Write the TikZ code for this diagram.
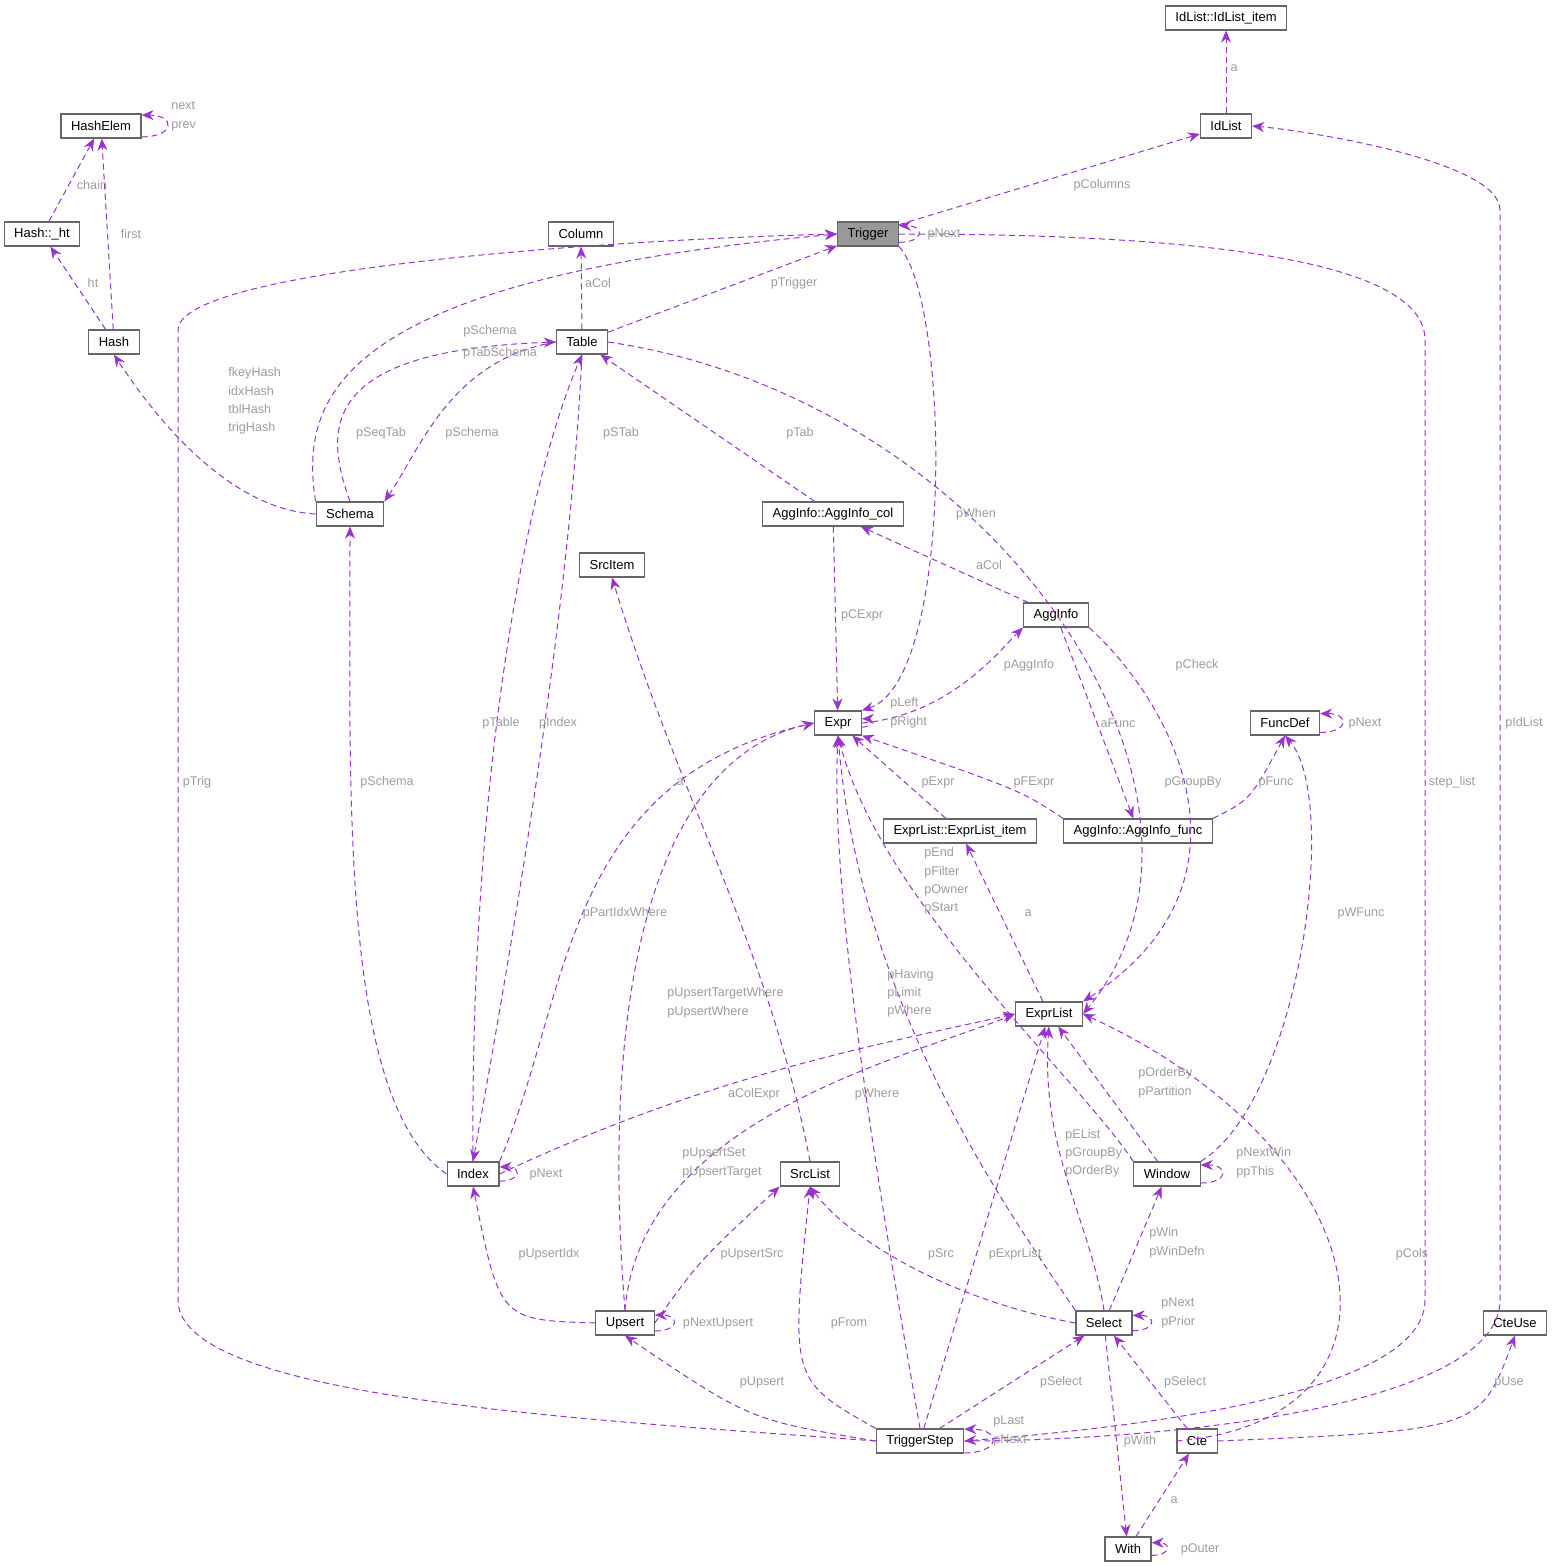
\documentclass[tikz,border=0pt]{standalone}
\usepackage{fontspec}
\setmainfont{Liberation Sans}
\usetikzlibrary{arrows.meta}
\definecolor{edgec}{HTML}{9A32CD}
\definecolor{labc}{HTML}{9C9C9C}
\definecolor{boxc}{HTML}{666666}
\tikzset{
  cls/.style={draw=boxc, fill=white, line width=0.6pt, minimum height=12pt, inner xsep=5pt, inner ysep=0pt, font=\fontsize{6.5}{7}\selectfont},
  rel/.style={draw=edgec, dashed, dash pattern=on 3pt off 2pt, line width=0.5pt, -{Stealth[length=6pt,width=5pt]}},
  lbl/.style={text=labc, font=\fontsize{6.3}{7.6}\selectfont, inner sep=0pt, align=left}
}
\begin{document}
\begin{tikzpicture}[x=0.5pt, y=-0.5pt]
\useasboundingbox (0,0) rectangle (1555,1568);
% classes
\node[cls] (ili) at (1226,18) {IdList::IdList\_item};
\node[cls] (idl) at (1226,126) {IdList};
\node[cls] (he) at (101,126) {HashElem};
\node[cls] (ht) at (42,234) {Hash::\_ht};
\node[cls] (col) at (581,234) {Column};
\node[cls, fill=black!40] (tr) at (868,234) {Trigger};
\node[cls] (hash) at (114,342) {Hash};
\node[cls] (tab) at (582,342) {Table};
\node[cls] (sch) at (350,514) {Schema};
\node[cls] (aic) at (833,514) {AggInfo::AggInfo\_col};
\node[cls] (si) at (612,565) {SrcItem};
\node[cls] (ai) at (1056,615) {AggInfo};
\node[cls] (ex) at (838,723) {Expr};
\node[cls] (fd) at (1285,723) {FuncDef};
\node[cls] (eli) at (960,831) {ExprList::ExprList\_item};
\node[cls] (aif) at (1138,831) {AggInfo::AggInfo\_func};
\node[cls] (el) at (1049,1014) {ExprList};
\node[cls] (idx) at (473,1174) {Index};
\node[cls] (sl) at (810,1174) {SrcList};
\node[cls] (win) at (1167,1174) {Window};
\node[cls] (ups) at (625,1323) {Upsert};
\node[cls] (sel) at (1104,1323) {Select};
\node[cls] (cu) at (1515,1323) {CteUse};
\node[cls] (ts) at (920,1441) {TriggerStep};
\node[cls] (cte) at (1197,1441) {Cte};
\node[cls] (wi) at (1128,1549) {With};
% relations
\draw[rel] (idl) -- (ili);
\draw[rel] (he.-15) to[out=0,in=0,looseness=4] (he.15);
\draw[rel] (ht) -- (he);
\draw[rel] (hash) -- (he);
\draw[rel] (hash) -- (ht);
\draw[rel] (tr) -- (idl);
\draw[rel] (tr.-15) to[out=0,in=0,looseness=4] (tr.15);
\draw[rel] (tab) -- (col);
\draw[rel] (tab) -- (tr);
\draw[rel] (sch.north west) .. controls (300,400) and (330,280) .. (tr.west);
\draw[rel] (tab.west) .. controls (450,360) and (420,450) .. (sch.north east);
\draw[rel] (sch.north) .. controls (320,420) and (330,350) .. (tab.west);
\draw[rel] (sch.west) .. controls (240,510) and (170,440) .. (hash.south);
\draw[rel] (tab.east) .. controls (1000,400) and (1260,800) .. (el.east);
\draw[rel] (tr.south east) .. controls (950,300) and (955,680) .. (ex.north east);
\draw[rel] (aic) -- (tab);
\draw[rel] (aic) -- (ex);
\draw[rel] (ai) -- (aic);
\draw[rel] (ex.east) .. controls (950,715) and (1000,650) .. (ai.south west);
\draw[rel] (ex.-10) to[out=0,in=0,looseness=3] (ex.10);
\draw[rel] (ai) -- (aif);
\draw[rel] (ai.south east) .. controls (1170,700) and (1270,880) .. (el.north east);
\draw[rel] (fd.-15) to[out=0,in=0,looseness=4] (fd.15);
\draw[rel] (aif.north east) .. controls (1250,800) .. (fd.south);
\draw[rel] (aif.north west) .. controls (1020,790) .. (ex.south east);
\draw[rel] (eli) -- (ex);
\draw[rel] (el) -- (eli);
\draw[rel] (win.north west) .. controls (1080,1080) and (880,900) .. (ex.south);
\draw[rel] (win.north east) .. controls (1300,1100) and (1340,800) .. (fd.south);
\draw[rel] (win) -- (el);
\draw[rel] (win.-15) to[out=0,in=0,looseness=4] (win.15);
\draw[rel] (idx.north east) .. controls (570,1000) and (560,780) .. (ex.west);
\draw[rel] (idx.east) .. controls (700,1080) and (850,1050) .. (el.west);
\draw[rel] (idx.-15) to[out=0,in=0,looseness=4] (idx.15);
\draw[rel] (idx.north) .. controls (470,800) and (520,500) .. (tab.south);
\draw[rel] (tab.south) .. controls (570,600) and (520,900) .. (idx.north);
\draw[rel] (idx.west) .. controls (340,1100) and (350,800) .. (sch.south);
\draw[rel] (sl.north) .. controls (770,950) and (680,800) .. (si.south);
\draw[rel] (ups.north) .. controls (600,1000) and (650,760) .. (ex.west);
\draw[rel] (ups.north) .. controls (640,1120) and (900,1060) .. (el.west);
\draw[rel] (ups.west) .. controls (500,1320) .. (idx.south);
\draw[rel] (ups.east) .. controls (700,1260) .. (sl.south west);
\draw[rel] (ups.-15) to[out=0,in=0,looseness=4] (ups.15);
\draw[rel] (sel.north west) .. controls (1000,1200) and (860,1000) .. (ex.south);
\draw[rel] (sel.north) .. controls (1090,1220) and (1040,1150) .. (el.south);
\draw[rel] (sel.west) .. controls (950,1300) and (850,1240) .. (sl.south);
\draw[rel] (sel) -- (win);
\draw[rel] (sel) -- (wi);
\draw[rel] (sel.-15) to[out=0,in=0,looseness=4] (sel.15);
\draw[rel] (ts.north) .. controls (880,1200) and (830,900) .. (ex.south);
\draw[rel] (ts) -- (el);
\draw[rel] (ts.north west) .. controls (790,1380) .. (sl.south);
\draw[rel] (ts.west) .. controls (750,1420) .. (ups.south);
\draw[rel] (ts) -- (sel);
\draw[rel] (ts.-15) to[out=0,in=0,looseness=4] (ts.15);
\draw[rel] (ts.west) .. controls (600,1420) and (178,1400) .. (178,1300) -- (178,330) .. controls (178,270) and (600,240) .. (tr.west);
\draw[rel] (tr.east) .. controls (1200,234) and (1425,260) .. (1425,340) -- (1425,1300) .. controls (1425,1400) and (1100,1430) .. (ts.east);
\draw[rel] (ts.east) .. controls (1200,1440) and (1500,1400) .. (1500,1300) -- (1500,210) .. controls (1500,160) and (1300,130) .. (idl.east);
\draw[rel] (cte) -- (sel);
\draw[rel] (cte.west) .. controls (1430,1420) and (1380,1150) .. (el.east);
\draw[rel] (cte.east) .. controls (1480,1430) .. (cu.south);
\draw[rel] (wi) -- (cte);
\draw[rel] (wi.-15) to[out=0,in=0,looseness=4] (wi.15);
% labels
\node[lbl] (lA) at (1234,68) {a};
\node[lbl, anchor=west] (lB) at (171,116) {next\\[2pt]prev};
\node[lbl] (lC) at (92,185) {chain};
\node[lbl] (lD) at (131,234) {first};
\node[lbl] (lE) at (93,283) {ht};
\node[lbl] (lF) at (1102,185) {pColumns};
\node[lbl] (lG) at (944,234) {pNext};
\node[lbl] (lH) at (598,283) {aCol};
\node[lbl] (lI) at (794,283) {pTrigger};
\node[lbl] (lJ) at (490,331) {pSchema};
\node[lbl] (lK) at (500,353) {pTabSchema};
\node[lbl] (lL) at (381,433) {pSeqTab};
\node[lbl] (lM) at (472,433) {pSchema};
\node[lbl, anchor=west] (lN) at (228,401) {fkeyHash\\[1.5pt]idxHash\\[1.5pt]tblHash\\[1.5pt]trigHash};
\node[lbl] (lO) at (621,433) {pSTab};
\node[lbl] (lP) at (800,433) {pTab};
\node[lbl] (lQ) at (976,514) {pWhen};
\node[lbl] (lR) at (989,565) {aCol};
\node[lbl] (lS) at (862,615) {pCExpr};
\node[lbl] (lT) at (1029,665) {pAggInfo};
\node[lbl] (lU) at (1197,665) {pCheck};
\node[lbl, anchor=west] (lV) at (890,713) {pLeft\\[2pt]pRight};
\node[lbl] (lW) at (1365,723) {pNext};
\node[lbl] (lX) at (501,723) {pTable};
\node[lbl] (lY) at (558,723) {pIndex};
\node[lbl] (lZ) at (1118,723) {aFunc};
\node[lbl] (la) at (1524,723) {pIdList};
\node[lbl] (lb) at (197,782) {pTrig};
\node[lbl] (lc) at (387,782) {pSchema};
\node[lbl] (ld) at (680,782) {a};
\node[lbl] (le) at (938,782) {pExpr};
\node[lbl] (lf) at (1034,782) {pFExpr};
\node[lbl] (lg) at (1193,782) {pGroupBy};
\node[lbl] (lh) at (1276,782) {pFunc};
\node[lbl] (li) at (1452,782) {step\_list};
\node[lbl, anchor=west] (lj) at (924,881) {pEnd\\[1.5pt]pFilter\\[1.5pt]pOwner\\[1.5pt]pStart};
\node[lbl] (lk) at (1028,913) {a};
\node[lbl] (ll) at (625,913) {pPartIdxWhere};
\node[lbl] (lm) at (1361,913) {pWFunc};
\node[lbl, anchor=west] (ln) at (887,993) {pHaving\\[1.5pt]pLimit\\[1.5pt]pWhere};
\node[lbl, anchor=west] (lo) at (667,1003) {pUpsertTargetWhere\\[2pt]pUpsertWhere};
\node[lbl, anchor=west] (lp) at (1138,1083) {pOrderBy\\[2pt]pPartition};
\node[lbl] (lq) at (754,1094) {aColExpr};
\node[lbl] (lr) at (877,1094) {pWhere};
\node[lbl, anchor=west] (ls) at (1065,1153) {pEList\\[1.5pt]pGroupBy\\[1.5pt]pOrderBy};
\node[lbl, anchor=west] (lt) at (682,1163) {pUpsertSet\\[2pt]pUpsertTarget};
\node[lbl] (lu) at (546,1174) {pNext};
\node[lbl, anchor=west] (lv) at (1236,1163) {pNextWin\\[2pt]ppThis};
\node[lbl, anchor=west] (lw) at (1149,1243) {pWin\\[2pt]pWinDefn};
\node[lbl] (lx) at (549,1254) {pUpsertIdx};
\node[lbl] (ly) at (752,1254) {pUpsertSrc};
\node[lbl] (lz) at (941,1254) {pSrc};
\node[lbl] (m1) at (1015,1254) {pExprList};
\node[lbl] (m2) at (1412,1254) {pCols};
\node[lbl, anchor=west] (m3) at (1161,1313) {pNext\\[2pt]pPrior};
\node[lbl] (m4) at (718,1323) {pNextUpsert};
\node[lbl] (m5) at (849,1323) {pFrom};
\node[lbl] (m6) at (762,1382) {pUpsert};
\node[lbl] (m7) at (1061,1382) {pSelect};
\node[lbl] (m8) at (1185,1382) {pSelect};
\node[lbl] (m9) at (1509,1382) {pUse};
\node[lbl, anchor=west] (n1) at (993,1431) {pLast\\[2pt]pNext};
\node[lbl] (n2) at (1140,1441) {pWith};
\node[lbl] (n3) at (1174,1500) {a};
\node[lbl] (n4) at (1200,1549) {pOuter};
\end{tikzpicture}
\end{document}
